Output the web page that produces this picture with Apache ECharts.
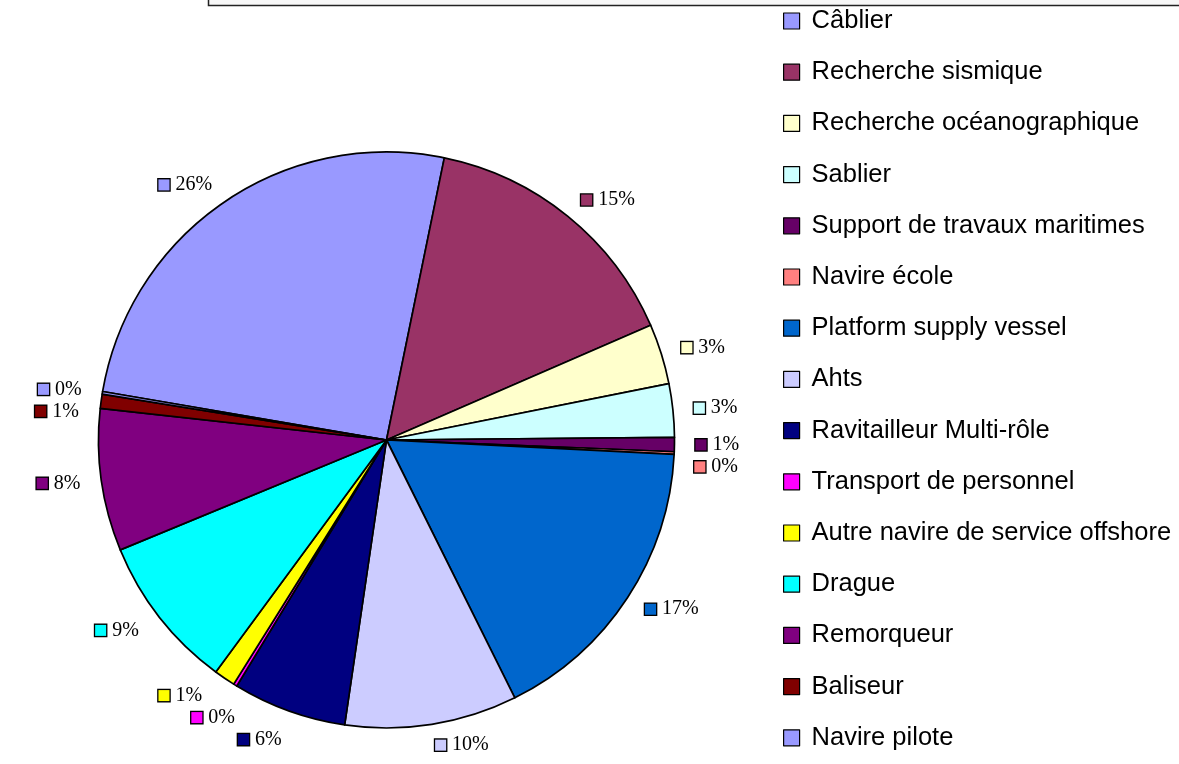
<!DOCTYPE html>
<html>
<head>
<meta charset="utf-8">
<script src="https://cdn.jsdelivr.net/npm/echarts@6/dist/echarts.min.js"></script>
<style>
html,body{margin:0;padding:0;background:#fff;}
#chart{width:1179px;height:764px;}
</style>
</head>
<body>
<div id="chart"></div>
<script>
// Data
const categories = [
  'Câblier', 'Recherche sismique', 'Recherche océanographique', 'Sablier',
  'Support de travaux maritimes', 'Navire école', 'Platform supply vessel', 'Ahts',
  'Ravitailleur Multi-rôle', 'Transport de personnel', 'Autre navire de service offshore',
  'Drague', 'Remorqueur', 'Baliseur', 'Navire pilote'
];
const values = [25.6, 15.3, 3.4, 3.0, 0.8, 0.15, 16.9, 9.7, 6.4, 0.2, 1.2, 8.7, 8.0, 0.8, 0.15];
const colors = [
  '#9999FF', '#993366', '#FFFFCC', '#CCFFFF', '#660066', '#FF8080', '#0066CC', '#CCCCFF',
  '#000080', '#FF00FF', '#FFFF00', '#00FFFF', '#800080', '#800000', '#9999FF'
];

const rich = { t: { fontFamily: 'Liberation Serif', fontSize: 20, color: '#000', padding: [0, 0, 0, 6] } };
colors.forEach((c, i) => {
  rich['s' + i] = { backgroundColor: c, borderColor: '#000', borderWidth: 1.3, width: 11, height: 11 };
});

const chart = echarts.init(document.getElementById('chart'), null, { renderer: 'canvas' });
chart.setOption({
  animation: false,
  backgroundColor: '#fff',
  color: colors,
  graphic: [{
    type: 'rect',
    shape: { x: 208.5, y: -20, width: 1000, height: 25.5 },
    style: { fill: '#f7f7f7', stroke: '#222', lineWidth: 1.5 }
  }],
  legend: {
    orient: 'vertical',
    left: 783,
    top: 8,
    padding: 0,
    icon: 'rect',
    itemWidth: 16,
    itemHeight: 16,
    itemGap: 25.2,
    itemStyle: { borderColor: '#000', borderWidth: 1.2 },
    textStyle: { fontFamily: 'Liberation Sans', fontSize: 25.5, lineHeight: 26, color: '#000', padding: [0, 0, 0, 7] },
    data: categories
  },
  series: [{
    type: 'pie',
    center: [386.5, 440],
    radius: 288,
    startAngle: 170.3,
    clockwise: true,
    avoidLabelOverlap: true,
    itemStyle: { borderColor: '#000', borderWidth: 1.7 },
    emphasis: { disabled: true },
    label: {
      show: true,
      position: 'outside',
      distanceToLabelLine: 0,
      formatter: p => '{s' + p.dataIndex + '|}{t|' + Math.round(p.percent) + '%}',
      rich: rich
    },
    labelLine: { show: false, length: 21, length2: 0 },
    data: categories.map((n, i) => ({ name: n, value: values[i] }))
  }]
});
</script>
</body>
</html>
